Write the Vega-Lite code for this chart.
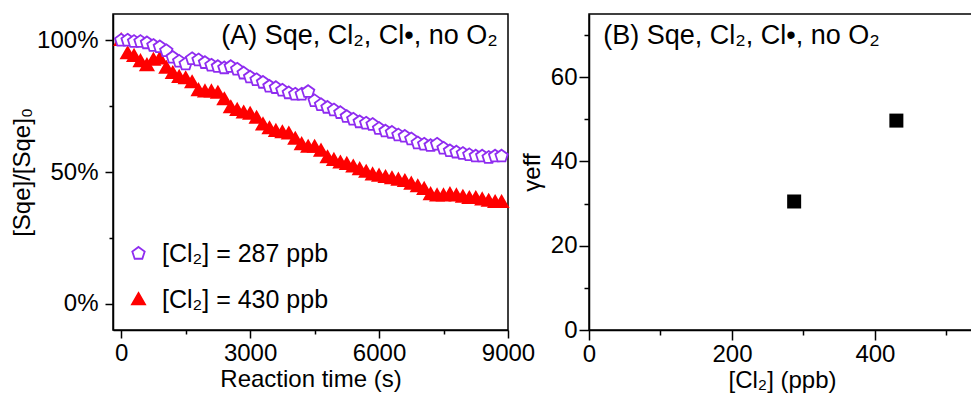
{
  "$schema": "https://vega.github.io/schema/vega-lite/v6.json",
  "background": "white",
  "padding": {"left": 9, "top": 13, "right": 0, "bottom": 0},
  "config": {
    "font": "Liberation Sans",
    "view": {"stroke": "black", "strokeWidth": 1.5},
    "axis": {
      "domainColor": "black", "domainWidth": 1.5, "tickColor": "black", "tickWidth": 1.5,
      "labelColor": "black", "titleColor": "black", "labelFontSize": 24, "titleFontSize": 24,
      "titleFontWeight": "normal", "grid": false, "labelFont": "Liberation Sans", "titleFont": "Liberation Sans",
      "labelOverlap": false, "labelFlush": false
    }
  },
  "datasets": {
    "decay": [
      {"series": "[Cl₂] = 430 ppb", "t": 0, "v": 100},
      {"series": "[Cl₂] = 430 ppb", "t": 150, "v": 95},
      {"series": "[Cl₂] = 430 ppb", "t": 300, "v": 94},
      {"series": "[Cl₂] = 430 ppb", "t": 450, "v": 92},
      {"series": "[Cl₂] = 430 ppb", "t": 600, "v": 90.5},
      {"series": "[Cl₂] = 430 ppb", "t": 750, "v": 92.5},
      {"series": "[Cl₂] = 430 ppb", "t": 900, "v": 93},
      {"series": "[Cl₂] = 430 ppb", "t": 1050, "v": 89.5},
      {"series": "[Cl₂] = 430 ppb", "t": 1200, "v": 87.5},
      {"series": "[Cl₂] = 430 ppb", "t": 1350, "v": 86},
      {"series": "[Cl₂] = 430 ppb", "t": 1500, "v": 85.5},
      {"series": "[Cl₂] = 430 ppb", "t": 1650, "v": 84},
      {"series": "[Cl₂] = 430 ppb", "t": 1800, "v": 81},
      {"series": "[Cl₂] = 430 ppb", "t": 1950, "v": 80.5},
      {"series": "[Cl₂] = 430 ppb", "t": 2100, "v": 80.5},
      {"series": "[Cl₂] = 430 ppb", "t": 2250, "v": 80},
      {"series": "[Cl₂] = 430 ppb", "t": 2400, "v": 77.5},
      {"series": "[Cl₂] = 430 ppb", "t": 2550, "v": 74.5},
      {"series": "[Cl₂] = 430 ppb", "t": 2700, "v": 73.5},
      {"series": "[Cl₂] = 430 ppb", "t": 2850, "v": 72.5},
      {"series": "[Cl₂] = 430 ppb", "t": 3000, "v": 72},
      {"series": "[Cl₂] = 430 ppb", "t": 3150, "v": 70.5},
      {"series": "[Cl₂] = 430 ppb", "t": 3300, "v": 68},
      {"series": "[Cl₂] = 430 ppb", "t": 3450, "v": 66.5},
      {"series": "[Cl₂] = 430 ppb", "t": 3600, "v": 65.5},
      {"series": "[Cl₂] = 430 ppb", "t": 3750, "v": 65},
      {"series": "[Cl₂] = 430 ppb", "t": 3900, "v": 64.5},
      {"series": "[Cl₂] = 430 ppb", "t": 4050, "v": 62.5},
      {"series": "[Cl₂] = 430 ppb", "t": 4200, "v": 60.5},
      {"series": "[Cl₂] = 430 ppb", "t": 4350, "v": 59.5},
      {"series": "[Cl₂] = 430 ppb", "t": 4500, "v": 59.5},
      {"series": "[Cl₂] = 430 ppb", "t": 4650, "v": 58},
      {"series": "[Cl₂] = 430 ppb", "t": 4800, "v": 55.5},
      {"series": "[Cl₂] = 430 ppb", "t": 4950, "v": 54.5},
      {"series": "[Cl₂] = 430 ppb", "t": 5100, "v": 53.5},
      {"series": "[Cl₂] = 430 ppb", "t": 5250, "v": 53},
      {"series": "[Cl₂] = 430 ppb", "t": 5400, "v": 52},
      {"series": "[Cl₂] = 430 ppb", "t": 5550, "v": 51},
      {"series": "[Cl₂] = 430 ppb", "t": 5700, "v": 50},
      {"series": "[Cl₂] = 430 ppb", "t": 5850, "v": 49},
      {"series": "[Cl₂] = 430 ppb", "t": 6000, "v": 48.5},
      {"series": "[Cl₂] = 430 ppb", "t": 6150, "v": 48},
      {"series": "[Cl₂] = 430 ppb", "t": 6300, "v": 47.5},
      {"series": "[Cl₂] = 430 ppb", "t": 6450, "v": 47},
      {"series": "[Cl₂] = 430 ppb", "t": 6600, "v": 46.5},
      {"series": "[Cl₂] = 430 ppb", "t": 6750, "v": 45.5},
      {"series": "[Cl₂] = 430 ppb", "t": 6900, "v": 44.5},
      {"series": "[Cl₂] = 430 ppb", "t": 7050, "v": 43.5},
      {"series": "[Cl₂] = 430 ppb", "t": 7200, "v": 41.5},
      {"series": "[Cl₂] = 430 ppb", "t": 7350, "v": 41},
      {"series": "[Cl₂] = 430 ppb", "t": 7500, "v": 41},
      {"series": "[Cl₂] = 430 ppb", "t": 7650, "v": 41.5},
      {"series": "[Cl₂] = 430 ppb", "t": 7800, "v": 41},
      {"series": "[Cl₂] = 430 ppb", "t": 7950, "v": 40.5},
      {"series": "[Cl₂] = 430 ppb", "t": 8100, "v": 40},
      {"series": "[Cl₂] = 430 ppb", "t": 8250, "v": 40},
      {"series": "[Cl₂] = 430 ppb", "t": 8400, "v": 39.5},
      {"series": "[Cl₂] = 430 ppb", "t": 8550, "v": 39},
      {"series": "[Cl₂] = 430 ppb", "t": 8700, "v": 38.5},
      {"series": "[Cl₂] = 430 ppb", "t": 8850, "v": 38.5},
      {"series": "[Cl₂] = 287 ppb", "t": 0, "v": 100},
      {"series": "[Cl₂] = 287 ppb", "t": 150, "v": 100},
      {"series": "[Cl₂] = 287 ppb", "t": 300, "v": 99.5},
      {"series": "[Cl₂] = 287 ppb", "t": 450, "v": 99.5},
      {"series": "[Cl₂] = 287 ppb", "t": 600, "v": 99},
      {"series": "[Cl₂] = 287 ppb", "t": 750, "v": 98},
      {"series": "[Cl₂] = 287 ppb", "t": 900, "v": 97.5},
      {"series": "[Cl₂] = 287 ppb", "t": 1050, "v": 96},
      {"series": "[Cl₂] = 287 ppb", "t": 1200, "v": 93.5},
      {"series": "[Cl₂] = 287 ppb", "t": 1350, "v": 92},
      {"series": "[Cl₂] = 287 ppb", "t": 1500, "v": 91},
      {"series": "[Cl₂] = 287 ppb", "t": 1650, "v": 93},
      {"series": "[Cl₂] = 287 ppb", "t": 1800, "v": 92.5},
      {"series": "[Cl₂] = 287 ppb", "t": 1950, "v": 91.5},
      {"series": "[Cl₂] = 287 ppb", "t": 2100, "v": 90.5},
      {"series": "[Cl₂] = 287 ppb", "t": 2250, "v": 90},
      {"series": "[Cl₂] = 287 ppb", "t": 2400, "v": 89.5},
      {"series": "[Cl₂] = 287 ppb", "t": 2550, "v": 90},
      {"series": "[Cl₂] = 287 ppb", "t": 2700, "v": 89},
      {"series": "[Cl₂] = 287 ppb", "t": 2850, "v": 87.5},
      {"series": "[Cl₂] = 287 ppb", "t": 3000, "v": 86},
      {"series": "[Cl₂] = 287 ppb", "t": 3150, "v": 85},
      {"series": "[Cl₂] = 287 ppb", "t": 3300, "v": 84},
      {"series": "[Cl₂] = 287 ppb", "t": 3450, "v": 82.5},
      {"series": "[Cl₂] = 287 ppb", "t": 3600, "v": 82},
      {"series": "[Cl₂] = 287 ppb", "t": 3750, "v": 81},
      {"series": "[Cl₂] = 287 ppb", "t": 3900, "v": 80},
      {"series": "[Cl₂] = 287 ppb", "t": 4050, "v": 79.5},
      {"series": "[Cl₂] = 287 ppb", "t": 4200, "v": 79.5},
      {"series": "[Cl₂] = 287 ppb", "t": 4350, "v": 80.5},
      {"series": "[Cl₂] = 287 ppb", "t": 4500, "v": 77},
      {"series": "[Cl₂] = 287 ppb", "t": 4650, "v": 75.5},
      {"series": "[Cl₂] = 287 ppb", "t": 4800, "v": 74.5},
      {"series": "[Cl₂] = 287 ppb", "t": 4950, "v": 73.5},
      {"series": "[Cl₂] = 287 ppb", "t": 5100, "v": 72.5},
      {"series": "[Cl₂] = 287 ppb", "t": 5250, "v": 71},
      {"series": "[Cl₂] = 287 ppb", "t": 5400, "v": 70},
      {"series": "[Cl₂] = 287 ppb", "t": 5550, "v": 69},
      {"series": "[Cl₂] = 287 ppb", "t": 5700, "v": 68.5},
      {"series": "[Cl₂] = 287 ppb", "t": 5850, "v": 68},
      {"series": "[Cl₂] = 287 ppb", "t": 6000, "v": 66.5},
      {"series": "[Cl₂] = 287 ppb", "t": 6150, "v": 65.5},
      {"series": "[Cl₂] = 287 ppb", "t": 6300, "v": 65},
      {"series": "[Cl₂] = 287 ppb", "t": 6450, "v": 64},
      {"series": "[Cl₂] = 287 ppb", "t": 6600, "v": 63.5},
      {"series": "[Cl₂] = 287 ppb", "t": 6750, "v": 62.5},
      {"series": "[Cl₂] = 287 ppb", "t": 6900, "v": 61},
      {"series": "[Cl₂] = 287 ppb", "t": 7050, "v": 60.5},
      {"series": "[Cl₂] = 287 ppb", "t": 7200, "v": 60},
      {"series": "[Cl₂] = 287 ppb", "t": 7350, "v": 60.5},
      {"series": "[Cl₂] = 287 ppb", "t": 7500, "v": 59},
      {"series": "[Cl₂] = 287 ppb", "t": 7650, "v": 58},
      {"series": "[Cl₂] = 287 ppb", "t": 7800, "v": 57.5},
      {"series": "[Cl₂] = 287 ppb", "t": 7950, "v": 57},
      {"series": "[Cl₂] = 287 ppb", "t": 8100, "v": 56.5},
      {"series": "[Cl₂] = 287 ppb", "t": 8250, "v": 56},
      {"series": "[Cl₂] = 287 ppb", "t": 8400, "v": 56},
      {"series": "[Cl₂] = 287 ppb", "t": 8550, "v": 55.5},
      {"series": "[Cl₂] = 287 ppb", "t": 8700, "v": 56},
      {"series": "[Cl₂] = 287 ppb", "t": 8850, "v": 56}
    ],
    "gamma": [
      {"cl2": 287, "gamma": 30.5},
      {"cl2": 430, "gamma": 49.7}
    ]
  },
  "bounds": "flush",
  "spacing": 81,
  "hconcat": [
    {
      "width": 395,
      "height": 316,
      "layer": [
        {
          "data": {"name": "decay"},
          "mark": {"type": "point", "strokeWidth": 1.8, "opacity": 1, "fillOpacity": 1, "strokeOpacity": 1},
          "encoding": {
            "x": {
              "field": "t", "type": "quantitative",
              "scale": {"domain": [-190, 9000], "nice": false, "zero": false},
              "axis": {
                "title": "Reaction time (s)",
                "values": [0, 1500, 3000, 4500, 6000, 7500, 9000],
                "format": "d",
                "labelExpr": "datum.value % 3000 === 0 ? datum.label : ''",
                "tickSize": {"condition": {"test": "datum.value % 3000 === 0", "value": 8}, "value": 4},
                "labelPadding": 3,
                "titlePadding": 2
              }
            },
            "y": {
              "field": "v", "type": "quantitative",
              "scale": {"domain": [-10, 110], "nice": false, "zero": false},
              "axis": {
                "title": "[Sqe]/[Sqe]₀",
                "values": [0, 25, 50, 75, 100],
                "labelExpr": "datum.value % 50 === 0 ? datum.value + '%' : ''",
                "tickSize": {"condition": {"test": "datum.value % 50 === 0", "value": 8}, "value": 4},
                "labelPadding": 7,
                "titlePadding": 2
              }
            },
            "shape": {
              "field": "series", "type": "nominal",
              "scale": {
                "domain": ["[Cl₂] = 287 ppb", "[Cl₂] = 430 ppb"],
                "range": ["M0,-1L0.951,-0.309L0.588,0.809L-0.588,0.809L-0.951,-0.309Z", "M0,-1L1,0.75L-1,0.75Z"]
              },
              "legend": {
                "orient": "none",
                "legendX": 13,
                "legendY": 227,
                "title": null,
                "padding": 0,
                "labelFontSize": 25,
                "labelFont": "Liberation Sans",
                "labelColor": "black",
                "labelLimit": 0,
                "symbolSize": 170,
                "labelOffset": 11,
                "rowPadding": 20,
                "symbolStrokeWidth": 1.8,
                "symbolOpacity": 1
              }
            },
            "fill": {
              "field": "series", "type": "nominal",
              "scale": {"domain": ["[Cl₂] = 287 ppb", "[Cl₂] = 430 ppb"], "range": ["white", "#FF0000"]},
              "legend": null
            },
            "stroke": {
              "field": "series", "type": "nominal",
              "scale": {"domain": ["[Cl₂] = 287 ppb", "[Cl₂] = 430 ppb"], "range": ["#8F2CF0", "#FF0000"]},
              "legend": null
            },
            "size": {"value": 170}
          }
        },
        {
          "data": {"values": [{}]},
          "mark": {"type": "text", "align": "right", "baseline": "alphabetic", "fontSize": 27, "font": "Liberation Sans", "color": "black"},
          "encoding": {
            "x": {"datum": 8760, "type": "quantitative"},
            "y": {"datum": 98.5, "type": "quantitative"},
            "text": {"value": "(A) Sqe, Cl₂, Cl•, no O₂"}
          }
        }
      ]
    },
    {
      "width": 386,
      "height": 316,
      "layer": [
        {
          "data": {"name": "gamma"},
          "mark": {"type": "square", "size": 196, "color": "black", "opacity": 1},
          "encoding": {
            "x": {
              "field": "cl2", "type": "quantitative",
              "scale": {"domain": [0, 540], "nice": false},
              "axis": {
                "title": "[Cl₂] (ppb)",
                "values": [0, 100, 200, 300, 400, 500],
                "labelExpr": "datum.value % 200 === 0 ? datum.label : ''",
                "tickSize": {"condition": {"test": "datum.value % 200 === 0", "value": 10}, "value": 5},
                "labelPadding": 2,
                "titlePadding": 2
              }
            },
            "y": {
              "field": "gamma", "type": "quantitative",
              "scale": {"domain": [0, 75], "nice": false},
              "axis": {
                "title": "γeff",
                "values": [0, 10, 20, 30, 40, 50, 60, 70],
                "labelExpr": "datum.value % 20 === 0 ? datum.label : ''",
                "tickSize": {"condition": {"test": "datum.value % 20 === 0", "value": 10}, "value": 5},
                "labelPadding": 2,
                "titlePadding": 6
              }
            }
          }
        },
        {
          "data": {"values": [{}]},
          "mark": {"type": "text", "align": "left", "baseline": "alphabetic", "fontSize": 27, "font": "Liberation Sans", "color": "black"},
          "encoding": {
            "x": {"datum": 20, "type": "quantitative"},
            "y": {"datum": 67.9, "type": "quantitative"},
            "text": {"value": "(B) Sqe, Cl₂, Cl•, no O₂"}
          }
        }
      ]
    }
  ]
}
